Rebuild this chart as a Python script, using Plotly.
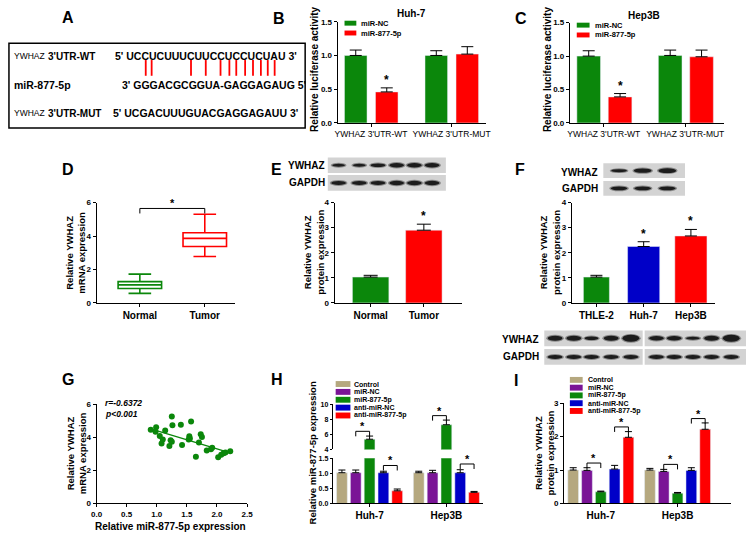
import numpy as np
import plotly.graph_objects as go

W, H = 753, 537
FONT = "Liberation Sans, Arial, sans-serif"

GREEN = "#0b870b"
RED = "#ff0000"
BLUE = "#0000c8"
PURPLE = "#7a1496"
TAN = "#b5a87f"

# ---- B / C: luciferase reporter ----
luc_labels = ["YWHAZ 3'UTR-WT", "YWHAZ 3'UTR-MUT"]
huh7_nc = [1.00, 1.00]
huh7_nc_err = [0.08, 0.07]
huh7_mir = [0.46, 1.02]
huh7_mir_err = [0.06, 0.11]
hep3b_nc = [1.00, 1.01]
hep3b_nc_err = [0.08, 0.08]
hep3b_mir = [0.39, 0.99]
hep3b_mir_err = [0.05, 0.10]

# ---- D: tissue mRNA (box stats) ----
tissues = ["Normal", "Tumor"]
box_low = [0.57, 2.78]
box_q1 = [0.86, 3.37]
box_med = [1.08, 3.86]
box_q3 = [1.27, 4.20]
box_high = [1.72, 5.30]

# ---- E: tissue protein ----
tissue_prot = [1.03, 2.90]
tissue_prot_err = [0.07, 0.24]

# ---- F: cell lines ----
cells = ["THLE-2", "Huh-7", "Hep3B"]
cell_prot = [1.03, 2.25, 2.67]
cell_prot_err = [0.07, 0.19, 0.26]

# ---- G: correlation ----
mir_x = [0.90, 0.99, 0.98, 1.05, 1.14, 1.10, 1.08, 1.25, 1.26, 1.40,
         1.23, 1.25, 1.21, 1.42, 1.57, 1.54, 1.55, 1.53, 1.65, 1.70,
         1.73, 1.75, 1.83, 1.90, 1.92, 2.02, 2.07, 2.11, 2.14, 2.22]
ywhaz_y = [4.45, 4.61, 4.33, 4.08, 4.41, 3.86, 3.63, 5.25, 4.73, 4.76,
           3.82, 3.73, 3.47, 3.53, 4.96, 4.06, 3.92, 3.86, 2.82, 3.69,
           4.18, 4.02, 3.20, 3.27, 3.37, 2.80, 2.94, 3.04, 3.08, 3.16]

# ---- H / I: transfection ----
groups = ["Control", "miR-NC", "miR-877-5p", "anti-miR-NC", "anti-miR-877-5p"]
group_colors = [TAN, PURPLE, GREEN, BLUE, RED]
cell_pair = ["Huh-7", "Hep3B"]
mir_huh7 = [1.02, 1.02, 5.35, 1.02, 0.42]
mir_huh7_err = [0.09, 0.09, 0.42, 0.05, 0.06]
mir_hep3b = [1.02, 1.02, 7.27, 1.02, 0.37]
mir_hep3b_err = [0.05, 0.08, 0.62, 0.10, 0.03]
prot_huh7 = [1.00, 0.99, 0.35, 1.03, 1.98]
prot_huh7_err = [0.07, 0.08, 0.02, 0.11, 0.17]
prot_hep3b = [1.00, 0.96, 0.31, 0.99, 2.22]
prot_hep3b_err = [0.05, 0.06, 0.02, 0.08, 0.19]


def px(x):
    return x / W


def py(y):
    return 1 - y / H


shapes = []
annotations = []


def text(s, x, y, size=10, bold=True, xanchor="center", yanchor="middle",
         angle=0, xref="paper", yref="paper", yshift=0):
    if xref == "paper":
        x = px(x)
    if yref == "paper":
        y = py(y)
    annotations.append(dict(
        text=s, x=x, y=y, xref=xref, yref=yref, showarrow=False,
        xanchor=xanchor, yanchor=yanchor, textangle=angle, yshift=yshift,
        borderpad=0, font=dict(family=FONT, size=size, color="black",
                               weight="bold" if bold else "normal")))


def rect(x0, y0, x1, y1, fill, line=None, lw=0):
    shapes.append(dict(type="rect", xref="paper", yref="paper",
                       x0=px(x0), x1=px(x1), y0=py(y1), y1=py(y0),
                       fillcolor=fill, line=dict(width=lw, color=line or fill)))


def band(xc, yc, w, h, color="#1c1c1c"):
    shapes.append(dict(type="circle", xref="paper", yref="paper",
                       x0=px(xc - w / 2), x1=px(xc + w / 2),
                       y0=py(yc + h / 2), y1=py(yc - h / 2),
                       fillcolor=color, line=dict(width=0)))


def blot(x0, x1, y0, y1, xs, thick, wid):
    rect(x0, y0, x1, y1, "#d3d3d3")
    yc = (y0 + y1) / 2
    for xc, t, w in zip(xs, thick, wid):
        band(xc, yc, w + 3, t + 2, "#8a8a8a")
        band(xc, yc, w, t)


def bracket(xa, ya, x0, x1, level, drop=5, star_size=11):
    shapes.append(dict(type="line", xref=xa, yref=ya, x0=x0, x1=x1,
                       y0=level, y1=level, line=dict(color="black", width=1)))
    for xv in (x0, x1):
        shapes.append(dict(type="line", xref=xa, yref=ya, x0=xv, x1=xv,
                           ysizemode="pixel", yanchor=level, y0=-drop, y1=0,
                           line=dict(color="black", width=1)))
    text("*", (x0 + x1) / 2, level, size=star_size, xref=xa, yref=ya,
         yanchor="bottom", yshift=-2)


def err(vals, w):
    return dict(type="data", array=vals, arrayminus=[0] * len(vals),
                symmetric=False, color="black", thickness=1, width=w)


fig = go.Figure()

# axis boxes in pixels: (x0, x1, ytop, ybottom, xrange, yrange)
boxes = {
    1: (337, 488, 18, 121, [-0.415, 1.43], [0, 1.5]),
    2: (573, 730, 19, 121, [-0.416, 1.48], [0, 1.5]),
    3: (92, 233, 202, 304, [-0.667, 1.47], [0, 6]),
    4: (334, 463, 202, 304, [-0.676, 1.71], [0, 4]),
    5: (575, 720, 202, 304, [-0.52, 2.5], [0, 4]),
    6: (92, 245, 407, 508, [0, 2.5], [0, 6]),
    7: (332, 485, 462, 508, [-0.48, 1.48], [0, 1.5]),
    8: (332, 485, 407, 453, [-0.48, 1.48], [4, 10]),
    9: (567, 737, 406, 508, [-0.48, 1.70], [0, 3]),
}
dticks = {1: 0.5, 2: 0.5, 3: 2, 4: 1, 5: 1, 6: 2, 7: 0.5, 8: 2, 9: 1}

layout_axes = {}
for n, (x0, x1, yt, yb, xr, yr) in boxes.items():
    sfx = "" if n == 1 else str(n)
    common = dict(showline=True, linecolor="black", linewidth=1, ticks="outside",
                  ticklen=3, tickwidth=1, tickcolor="black", showgrid=False,
                  zeroline=False, fixedrange=True)
    xfont = dict(family=FONT, size=10, color="black", weight="bold")
    if n in (1, 2):
        xfont = dict(family=FONT, size=8.5, color="black")
    xa = dict(common, domain=[px(x0), px(x1)], range=xr, anchor="y" + sfx,
              tickfont=xfont)
    if n == 6:
        xa.update(dtick=0.5, tickformat=".1f",
                  tickfont=dict(family=FONT, size=8, color="black", weight="bold"))
    if n == 8:
        xa.update(visible=False)
    ysize = 7 if n in (7, 8) else 8
    ya = dict(common, domain=[py(yb), py(yt)], range=yr, anchor="x" + sfx,
              dtick=dticks[n],
              tickfont=dict(family=FONT, size=ysize, color="black", weight="bold"))
    if n in (7, 8):
        ya.update(ticklen=2)
    if n in (1, 2, 7):
        ya.update(tickformat=".1f")
    layout_axes["xaxis" + sfx] = xa
    layout_axes["yaxis" + sfx] = ya

# ---- B ----
fig.add_trace(go.Bar(x=luc_labels, y=huh7_nc, xaxis="x", yaxis="y", marker_color=GREEN,
                     width=0.28, offset=-0.33, error_y=err(huh7_nc_err, 6)))
fig.add_trace(go.Bar(x=luc_labels, y=huh7_mir, xaxis="x", yaxis="y", marker_color=RED,
                     width=0.28, offset=0.055, error_y=err(huh7_mir_err, 6)))
text("*", 0.195, huh7_mir[0] + huh7_mir_err[0], size=12, xref="x", yref="y", yanchor="bottom")

# ---- C ----
fig.add_trace(go.Bar(x=luc_labels, y=hep3b_nc, xaxis="x2", yaxis="y2", marker_color=GREEN,
                     width=0.29, offset=-0.33, error_y=err(hep3b_nc_err, 6)))
fig.add_trace(go.Bar(x=luc_labels, y=hep3b_mir, xaxis="x2", yaxis="y2", marker_color=RED,
                     width=0.29, offset=0.055, error_y=err(hep3b_mir_err, 6)))
text("*", 0.2, hep3b_mir[0] + hep3b_mir_err[0], size=12, xref="x2", yref="y2", yanchor="bottom")

# ---- D ----
for i, col in enumerate([GREEN, RED]):
    fig.add_trace(go.Box(x=[tissues[i]], q1=[box_q1[i]], median=[box_med[i]],
                         q3=[box_q3[i]], lowerfence=[box_low[i]], upperfence=[box_high[i]],
                         xaxis="x3", yaxis="y3", width=0.67, whiskerwidth=0.52,
                         line=dict(color=col, width=1.6), fillcolor="white",
                         boxpoints=False))
bracket("x3", "y3", 0, 1, 5.65)

# ---- E ----
fig.add_trace(go.Bar(x=tissues, y=tissue_prot, xaxis="x4", yaxis="y4",
                     marker_color=[GREEN, RED], width=0.685,
                     error_y=err(tissue_prot_err, 7)))
text("*", 1, tissue_prot[1] + tissue_prot_err[1], size=12, xref="x4", yref="y4", yanchor="bottom")

# ---- F ----
fig.add_trace(go.Bar(x=cells, y=cell_prot, xaxis="x5", yaxis="y5",
                     marker_color=[GREEN, BLUE, RED], width=[0.55, 0.68, 0.68],
                     error_y=err(cell_prot_err, 6)))
for i in (1, 2):
    text("*", i, cell_prot[i] + cell_prot_err[i], size=12, xref="x5", yref="y5", yanchor="bottom")

# ---- G ----
fig.add_trace(go.Scatter(x=mir_x, y=ywhaz_y, mode="markers", xaxis="x6", yaxis="y6",
                         marker=dict(color=GREEN, size=6)))
slope, icpt = np.polyfit(mir_x, ywhaz_y, 1)
fit_x = np.array([min(mir_x), max(mir_x)])
fig.add_trace(go.Scatter(x=fit_x, y=slope * fit_x + icpt, mode="lines", xaxis="x6", yaxis="y6",
                         line=dict(color=GREEN, width=1.3)))
text("<i>r=-0.6372</i>", 100, 406, size=8.5, xanchor="left")
text("<i>p<0.001</i>", 100, 417, size=8.5, xanchor="left")

# ---- H (broken axis) ----
slot, bw = 0.18, 0.14
for k, g in enumerate(groups):
    for xa, ya in (("x7", "y7"), ("x8", "y8")):
        fig.add_trace(go.Bar(x=cell_pair, y=[mir_huh7[k], mir_hep3b[k]], xaxis=xa, yaxis=ya,
                             marker_color=group_colors[k], width=bw,
                             offset=(k - 2) * slot - bw / 2,
                             error_y=err([mir_huh7_err[k], mir_hep3b_err[k]], 3.5)))
bracket("x8", "y8", -slot, 0, 6.4)
bracket("x7", "y7", slot, 2 * slot, 1.26)
bracket("x8", "y8", 1 - slot, 1, 8.48)
bracket("x7", "y7", 1 + slot, 1 + 2 * slot, 1.31)

# ---- I ----
for k, g in enumerate(groups):
    fig.add_trace(go.Bar(x=cell_pair, y=[prot_huh7[k], prot_hep3b[k]], xaxis="x9", yaxis="y9",
                         marker_color=group_colors[k], width=bw,
                         offset=(k - 2) * slot - bw / 2,
                         error_y=err([prot_huh7_err[k], prot_hep3b_err[k]], 3.5)))
bracket("x9", "y9", -slot, 0, 1.21)
bracket("x9", "y9", slot, 2 * slot, 2.29)
bracket("x9", "y9", 1 - slot, 1, 1.17)
bracket("x9", "y9", 1 + slot, 1 + 2 * slot, 2.54)

# ---- legends ----
text("miR-NC", 360, 19.5, size=7.5, xanchor="left")
text("miR-877-5p", 360, 29.5, size=7.5, xanchor="left")
rect(344, 17, 356, 22, GREEN)
rect(344, 27, 356, 32, RED)
text("miR-NC", 598, 21.5, size=7.5, xanchor="left")
text("miR-877-5p", 598, 31.5, size=7.5, xanchor="left")
rect(580, 19, 593, 24, GREEN)
rect(580, 29, 593, 34, RED)
for k, g in enumerate(groups):
    yH = 386.5 + k * 8.0
    rect(335, yH - 3, 350, yH + 3, group_colors[k])
    text(g, 353, yH, size=7, xanchor="left")
    yI = 382.3 + k * 7.9
    rect(573, yI - 3, 586, yI + 3, group_colors[k])
    text(g, 590, yI, size=7, xanchor="left")

# ---- axis titles ----
text("Relative luciferase activity", 314, 66, size=10, angle=-90)
text("Relative luciferase activity", 551, 66, size=10, angle=-90)
text("Relative YWHAZ<br>mRNA expression", 71, 253, size=9.5, angle=-90)
text("Relative YWHAZ<br>protein expression", 313, 253, size=9.5, angle=-90)
text("Relative YWHAZ<br>protein expression", 553, 253, size=9.5, angle=-90)
text("Relative YWHAZ<br>mRNA expression", 71, 457, size=9.5, angle=-90)
text("Relative miR-877-5p expression", 167, 531, size=10)
text("Relative miR-877-5p expression", 311, 457, size=9.5, angle=-90)
text("Relative YWHAZ<br>protein expression", 547, 457, size=9.5, angle=-90)
text("Huh-7", 412, 10, size=10)
text("Hep3B", 648, 12, size=10)

# ---- panel letters ----
for lab, x, y in [("A", 63, 14), ("B", 277, 15), ("C", 523, 15), ("D", 63, 168),
                  ("E", 275, 168), ("F", 522, 168), ("G", 63, 382), ("H", 275, 382),
                  ("I", 518, 383)]:
    text(lab, x, y, size=16)

# ---- panel A: sequence alignment ----
rect(3, 40, 304, 126, "rgba(0,0,0,0)", "black", 1.5)
text("YWHAZ", 7, 53, size=8.5, bold=False, xanchor="left")
text("3'UTR-WT", 42, 53, size=10, xanchor="left")
text("5' UCCUCUUUCUUCCUCCUCUAU 3'", 110, 53, size=10.5, xanchor="left")
text("miR-877-5p", 7, 82, size=10.5, xanchor="left")
text("3' GGGACGCGGUA-GAGGAGAUG 5'", 117, 82, size=10.5, xanchor="left")
text("YWHAZ", 7, 111, size=8.5, bold=False, xanchor="left")
text("3'UTR-MUT", 42, 111, size=10, xanchor="left")
text("5' UCGACUUUGUACGAGGAGAUU 3'", 108, 111, size=10.5, xanchor="left")
for xl in [142, 148, 188, 203, 218, 227, 234, 243, 251, 259, 266, 273]:
    shapes.append(dict(type="line", xref="paper", yref="paper", x0=px(xl), x1=px(xl),
                       y0=py(73), y1=py(57), line=dict(color=RED, width=1.8)))

# ---- western blots ----
text("YWHAZ", 325, 164, size=10, xanchor="right")
text("GAPDH", 325, 182, size=10, xanchor="right")
e_x = [338, 359, 378, 397, 415, 433]
blot(327, 447, 156, 172, e_x, [3, 3, 3.5, 4.5, 4.5, 4.5], [13, 13, 15, 15, 15, 15])
blot(327, 447, 174, 190, e_x, [4, 4, 4, 4.5, 4.5, 4.5], [15] * 6)

text("YWHAZ", 603, 171, size=10, xanchor="right")
text("GAPDH", 603, 188, size=10, xanchor="right")
f_x = [623, 647, 672]
blot(607, 690, 162, 177, f_x, [3, 4.5, 5], [16, 18, 18])
blot(607, 690, 180, 195, f_x, [4, 4, 4], [17, 17, 17])

text("YWHAZ", 543, 341, size=10, xanchor="right")
text("GAPDH", 543, 359, size=10, xanchor="right")
i1 = [558, 577, 595, 615, 635]
i2 = [661, 679, 698, 717, 737]
blot(547, 647, 332, 348, i1, [5, 5, 3.5, 5, 7], [15, 15, 14, 15, 17])
blot(649, 752, 332, 348, i2, [4.5, 4.5, 3, 5, 7], [15, 15, 14, 15, 17])
blot(547, 647, 351, 367, i1, [4, 4, 4, 4, 4], [15] * 5)
blot(649, 752, 351, 367, i2, [4, 4, 4, 4, 4], [15] * 5)

fig.update_layout(
    width=W, height=H, margin=dict(l=0, r=0, t=0, b=0),
    paper_bgcolor="white", plot_bgcolor="white",
    showlegend=False, barmode="overlay",
    font=dict(family=FONT, color="black"),
    shapes=shapes, annotations=annotations,
    **layout_axes,
)
fig.write_html("out.html", config={"displayModeBar": False},
               post_script="document.body.style.margin='0';")
